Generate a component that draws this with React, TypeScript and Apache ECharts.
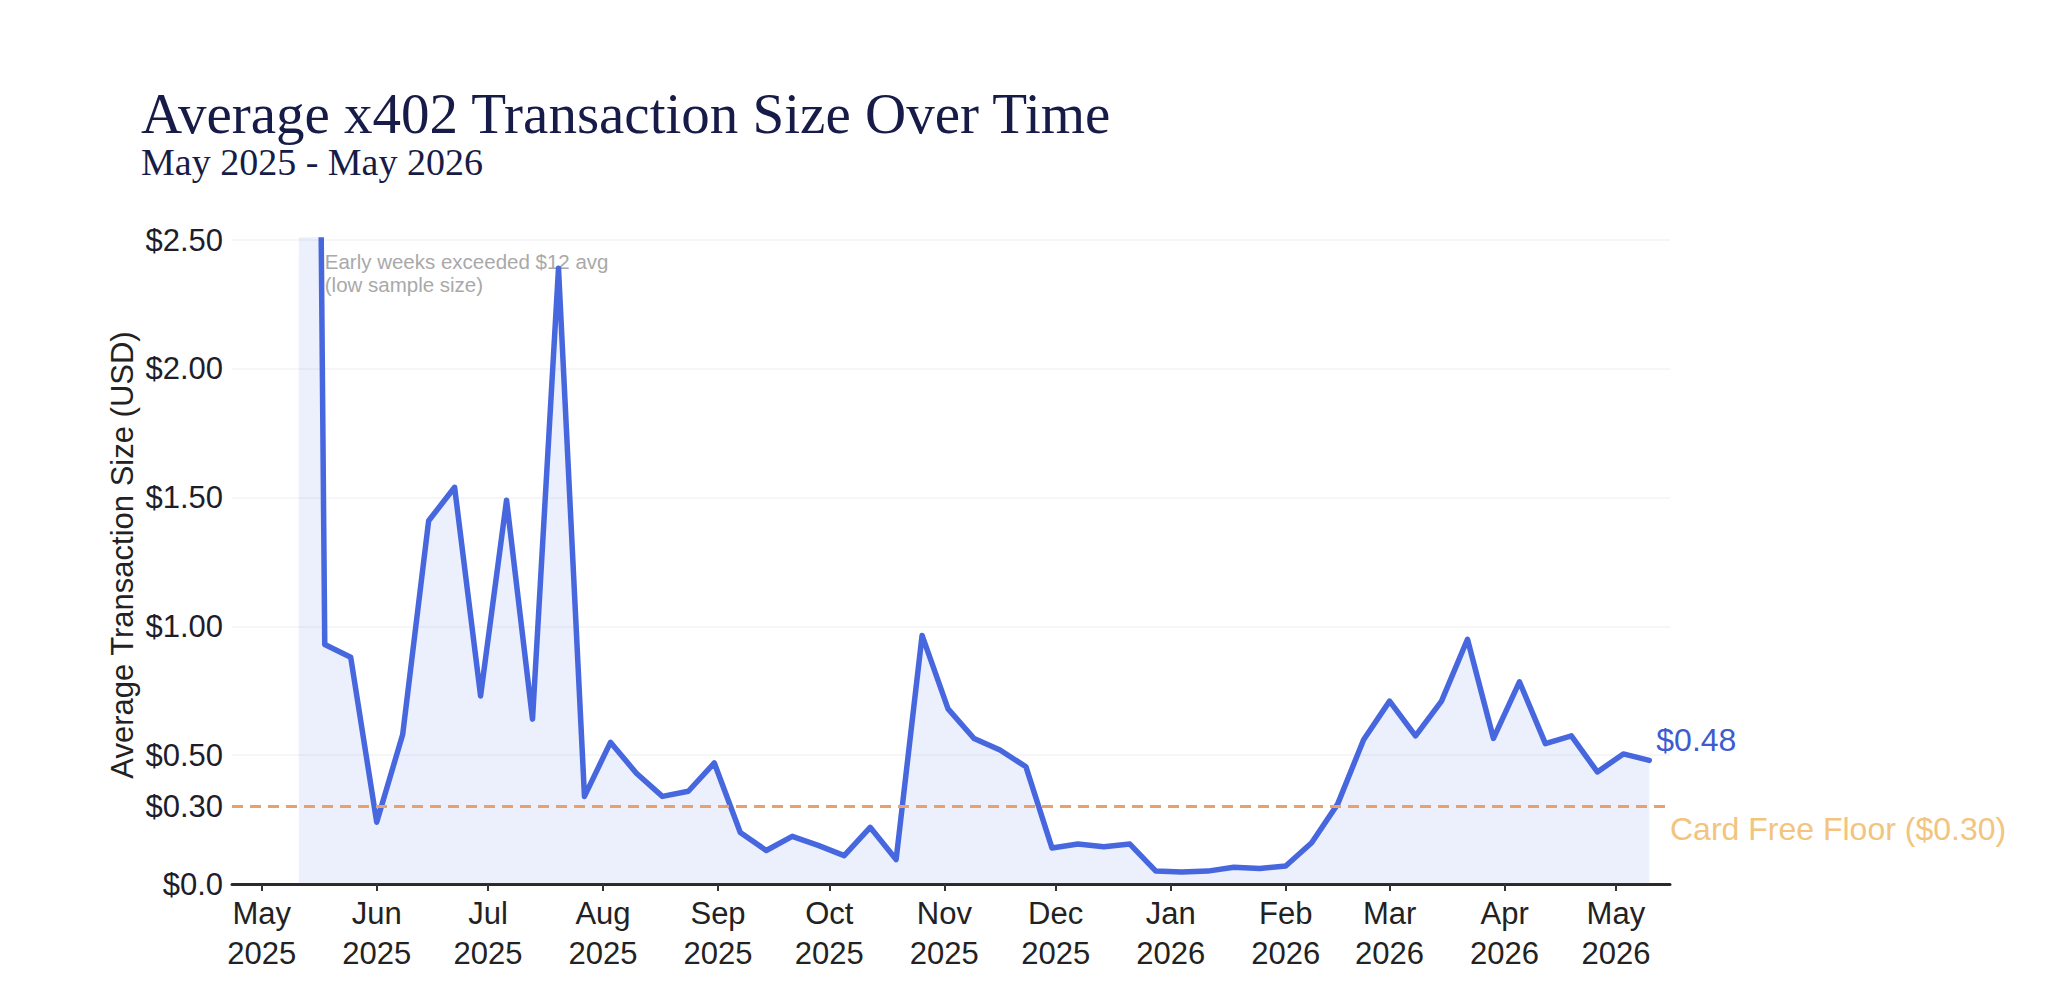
import React, { useEffect, useRef } from "react";
import * as echarts from "echarts";

const TITLE = "Average x402 Transaction Size Over Time";
const SUBTITLE = "May 2025 - May 2026";
const Y_TITLE = "Average Transaction Size (USD)";
const ANNOTATION = "Early weeks exceeded $12 avg\n(low sample size)";
const FLOOR_LABEL = "Card Free Floor ($0.30)";

const WEEKS = [
  "2025-05-11", "2025-05-18", "2025-05-25",
  "2025-06-01", "2025-06-08", "2025-06-15", "2025-06-22", "2025-06-29",
  "2025-07-06", "2025-07-13", "2025-07-20", "2025-07-27",
  "2025-08-03", "2025-08-10", "2025-08-17", "2025-08-24", "2025-08-31",
  "2025-09-07", "2025-09-14", "2025-09-21", "2025-09-28",
  "2025-10-05", "2025-10-12", "2025-10-19", "2025-10-26",
  "2025-11-02", "2025-11-09", "2025-11-16", "2025-11-23", "2025-11-30",
  "2025-12-07", "2025-12-14", "2025-12-21", "2025-12-28",
  "2026-01-04", "2026-01-11", "2026-01-18", "2026-01-25",
  "2026-02-01", "2026-02-08", "2026-02-15", "2026-02-22",
  "2026-03-01", "2026-03-08", "2026-03-15", "2026-03-22", "2026-03-29",
  "2026-04-05", "2026-04-12", "2026-04-19", "2026-04-26",
  "2026-05-03", "2026-05-10",
];

const AVG_SIZE = [
  12.5, 0.93, 0.88,
  0.24, 0.58, 1.41, 1.54, 0.73,
  1.49, 0.64, 2.39, 0.34,
  0.55, 0.43, 0.34, 0.36, 0.47,
  0.2, 0.13, 0.185, 0.15,
  0.11, 0.22, 0.095, 0.965,
  0.68, 0.565, 0.52, 0.455, 0.14,
  0.155, 0.145, 0.155, 0.05,
  0.047, 0.05, 0.065, 0.06,
  0.07, 0.16, 0.31, 0.56,
  0.71, 0.575, 0.71, 0.95, 0.565,
  0.785, 0.545, 0.575, 0.435,
  0.505, 0.48,
];

const MONTH_TICKS = [
  "2025-05-01", "2025-06-01", "2025-07-01", "2025-08-01", "2025-09-01",
  "2025-10-01", "2025-11-01", "2025-12-01", "2026-01-01", "2026-02-01",
  "2026-03-01", "2026-04-01", "2026-05-01",
];
const MONTH_NAMES = ["Jan", "Feb", "Mar", "Apr", "May", "Jun", "Jul", "Aug", "Sep", "Oct", "Nov", "Dec"];

const Y_LABEL_VALUES = [0, 0.3, 0.5, 1, 1.5, 2, 2.5];
const Y_MIN = 0;
const Y_MAX = 2.5;
const Y_INTERVAL = 0.5;
const X_MIN = "2025-04-23";
const X_MAX = "2026-05-15T14:00:00Z";
const FLOOR = 0.3;
const ANNOT_WEEK_INDEX = 1;
const ANNOT_Y = 2.37;

const SANS = "'Liberation Sans', Arial, Helvetica, sans-serif";
const SERIF = "'Liberation Serif', 'Times New Roman', serif";

export default function App() {
  const ref = useRef<HTMLDivElement>(null);

  useEffect(() => {
    if (!ref.current) return;
    const chart = echarts.init(ref.current, null, { renderer: "svg", width: 2048, height: 1005 });

    const seriesData = WEEKS.map((d, i) => [Date.parse(d), AVG_SIZE[i]]);
    const tickValues = MONTH_TICKS.map((d) => Date.parse(d));

    const option: any = {
      animation: false,
      backgroundColor: "#ffffff",
      grid: { left: 232, right: 378, top: 240, bottom: 121, containLabel: false, outerBoundsMode: "none" },
      xAxis: {
        type: "value",
        min: Date.parse(X_MIN),
        max: Date.parse(X_MAX),
        axisLine: { show: true, onZero: false, lineStyle: { color: "#2a2a2a", width: 3 } },
        axisTick: { show: true, customValues: tickValues, length: 7, lineStyle: { color: "#333333", width: 2 } },
        splitLine: { show: false },
        axisLabel: {
          customValues: tickValues,
          margin: 9,
          color: "#222222",
          fontSize: 31,
          lineHeight: 40,
          fontFamily: SANS,
          showMinLabel: true,
          showMaxLabel: true,
          hideOverlap: false,
          formatter: (v: number) => {
            const d = new Date(v);
            return MONTH_NAMES[d.getUTCMonth()] + "\n" + d.getUTCFullYear();
          },
        },
      },
      yAxis: {
        type: "value",
        min: Y_MIN,
        max: Y_MAX,
        interval: Y_INTERVAL,
        axisLine: { show: false },
        axisTick: { show: false },
        splitLine: { show: true, lineStyle: { color: "#f3f3f5", width: 1.5 } },
        axisLabel: {
          customValues: Y_LABEL_VALUES,
          margin: 9,
          color: "#1d1d2b",
          fontSize: 31,
          fontFamily: SANS,
          formatter: (v: number) => (v === 0 ? "$0.0" : "$" + v.toFixed(2)),
        },
      },
      series: [
        {
          type: "line",
          data: seriesData,
          showSymbol: false,
          symbol: "none",
          clip: true,
          lineStyle: { color: "#4767DF", width: 5.5, join: "round", cap: "round" },
          areaStyle: { color: "rgba(72,104,223,0.15)" },
          endLabel: {
            show: true,
            formatter: (p: any) => "$" + p.value[1].toFixed(2),
            color: "#3d5ccf",
            fontSize: 32,
            fontFamily: SANS,
            distance: 7,
            offset: [0, -20],
          },
          markLine: {
            silent: true,
            symbol: ["none", "none"],
            animation: false,
            lineStyle: { type: [11, 7], color: "#E9A06C", width: 2.8 },
            label: {
              show: true,
              position: "end",
              distance: 0,
              offset: [0, 22],
              formatter: FLOOR_LABEL,
              color: "#F2C47E",
              fontSize: 32,
              fontFamily: SANS,
            },
            data: [{ yAxis: FLOOR }],
          },
        },
      ],
    };

    chart.setOption(option);

    const ap = chart.convertToPixel({ gridIndex: 0 }, [Date.parse(WEEKS[ANNOT_WEEK_INDEX]), ANNOT_Y]) as number[];

    chart.setOption({
      graphic: [
        {
          type: "text",
          left: 141,
          top: 85,
          style: { text: TITLE, fill: "#171b47", fontSize: 57, fontFamily: SERIF, fontWeight: "normal" },
        },
        {
          type: "text",
          left: 141,
          top: 143,
          style: { text: SUBTITLE, fill: "#171b47", fontSize: 38, fontFamily: SERIF },
        },
        {
          type: "text",
          x: 122,
          y: 555,
          rotation: Math.PI / 2,
          style: {
            text: Y_TITLE,
            fill: "#222222",
            fontSize: 31,
            fontFamily: SANS,
            align: "center",
            verticalAlign: "middle",
          },
        },
        {
          type: "text",
          x: ap[0],
          y: ap[1],
          style: {
            text: ANNOTATION,
            fill: "#a9a9a9",
            fontSize: 20.5,
            lineHeight: 23,
            fontFamily: SANS,
            align: "left",
            verticalAlign: "middle",
          },
        },
      ],
    });

    return () => chart.dispose();
  }, []);

  return (
    <div
      ref={ref}
      style={{ position: "fixed", left: 0, top: 0, width: 2048, height: 1005, background: "#fff" }}
    />
  );
}
